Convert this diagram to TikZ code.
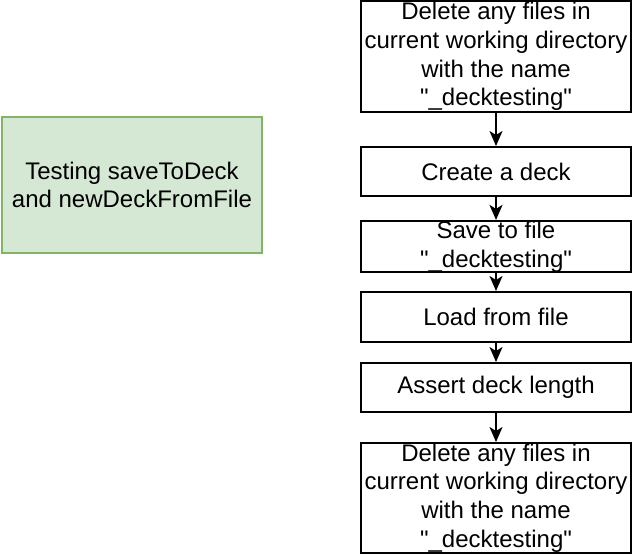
\documentclass[tikz,border=0pt]{standalone}
\usepackage{fontspec}
\newfontfamily\arialfont{Liberation Sans}
\usetikzlibrary{arrows.meta}
\definecolor{gfill}{HTML}{D5E8D4}
\definecolor{gdraw}{HTML}{82B366}
\begin{document}
\begin{tikzpicture}[x=1pt,y=-1pt,
  every node/.style={font=\arialfont\fontsize{24}{28.8}\selectfont, align=center, inner sep=0pt},
  stepbox/.style={draw=black, line width=2pt, fill=white, minimum width=270pt},
  notebox/.style={draw=gdraw, line width=2pt, fill=gfill, minimum width=260pt, minimum height=136pt},
  flow/.style={draw=black, line width=2pt, -{Stealth[length=15pt,width=13pt,inset=4pt]}}]
\useasboundingbox (0,0) rectangle (632,556);
\node[notebox] (note) at (132,185) {Testing saveToDeck\\and newDeckFromFile};
\node[stepbox, minimum height=111pt] (s1) at (496,56.5) {Delete any files in\\current working directory\\with the name\\"\_decktesting"};
\node[stepbox, minimum height=49pt] (s2) at (496,171.5) {Create a deck};
\node[stepbox, minimum height=49pt] (s3) at (496,246.5) {Save to file\\"\_decktesting"};
\node[stepbox, minimum height=50pt] (s4) at (496,317) {Load from file};
\node[stepbox, minimum height=49pt] (s5) at (496,387.5) {Assert deck length};
\node[stepbox, minimum height=110pt] (s6) at (496,498) {Delete any files in\\current working directory\\with the name\\"\_decktesting"};
\draw[flow] (s1) -- (s2);
\draw[flow] (s2) -- (s3);
\draw[flow] (s3) -- (s4);
\draw[flow] (s4) -- (s5);
\draw[flow] (s5) -- (s6);
\end{tikzpicture}
\end{document}
